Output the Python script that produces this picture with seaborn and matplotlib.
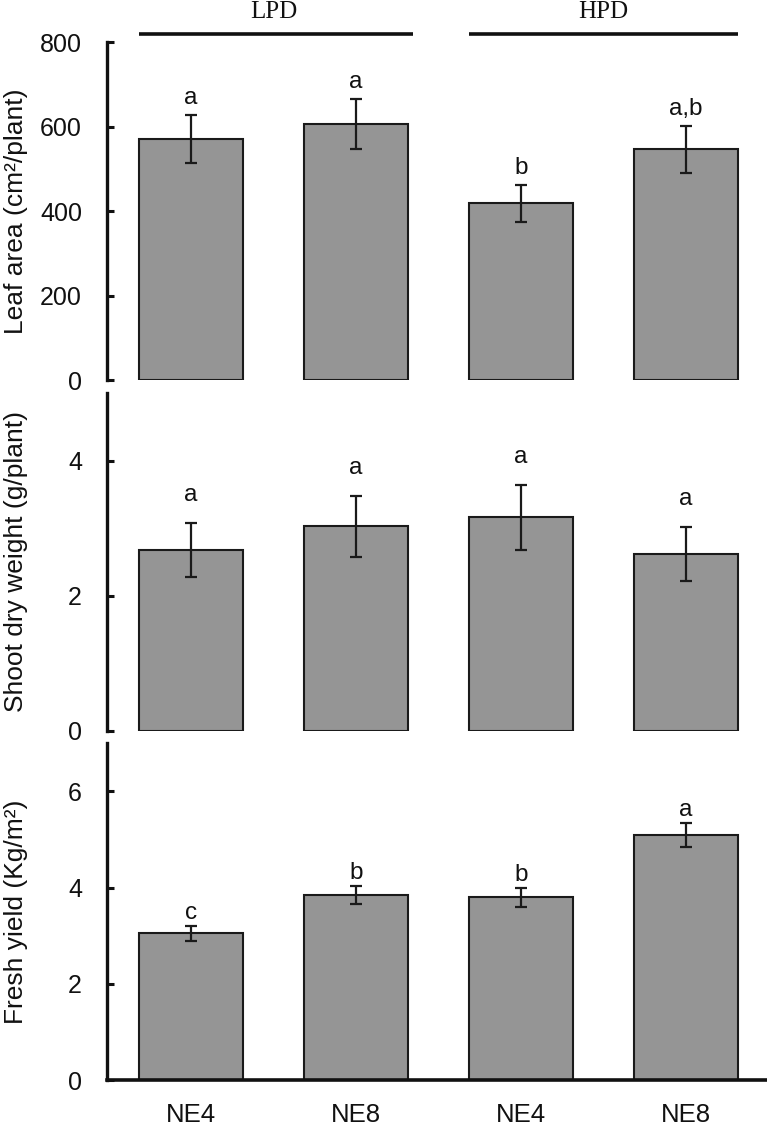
import matplotlib
matplotlib.use("Agg")
import matplotlib.pyplot as plt
import seaborn as sns
import pandas as pd
import numpy as np

# ---- data ----
conditions = ["LPD NE4", "LPD NE8", "HPD NE4", "HPD NE8"]
tick_labels = ["NE4", "NE8", "NE4", "NE8"]
groups = ["LPD", "HPD"]

leaf_area = [570, 606, 418, 546]
leaf_area_err = [57, 60, 43, 55]
leaf_area_letters = ["a", "a", "b", "a,b"]

shoot_dw = [2.68, 3.03, 3.16, 2.62]
shoot_dw_err = [0.40, 0.45, 0.48, 0.40]
shoot_dw_letters = ["a", "a", "a", "a"]

fresh_yield = [3.05, 3.85, 3.80, 5.10]
fresh_yield_err = [0.16, 0.19, 0.20, 0.25]
fresh_yield_letters = ["c", "b", "b", "a"]

# ---- style ----
sns.set_theme(style="white")
plt.rcParams["font.family"] = ["Liberation Sans", "DejaVu Sans"]

BAR_COLOR = "#959595"
EDGE = "#1a1a1a"
W = 0.63
XLIM = (-0.51, 3.49)

fig = plt.figure(figsize=(7.67, 11.25), dpi=100)

panels = [
    dict(vals=leaf_area, err=leaf_area_err, letters=leaf_area_letters,
         ylabel="Leaf area (cm²/plant)", ylim=(0, 800), ticks=[0, 200, 400, 600, 800],
         rect=[0.1395, 0.6622, 0.8605, 0.3004], off=8),
    dict(vals=shoot_dw, err=shoot_dw_err, letters=shoot_dw_letters,
         ylabel="Shoot dry weight (g/plant)", ylim=(0, 5), ticks=[0, 2, 4],
         rect=[0.1395, 0.3505, 0.8605, 0.3000], off=16),
    dict(vals=fresh_yield, err=fresh_yield_err, letters=fresh_yield_letters,
         ylabel="Fresh yield (Kg/m²)", ylim=(0, 7), ticks=[0, 2, 4, 6],
         rect=[0.1395, 0.0397, 0.8605, 0.2998], off=5),
]

axes = []
for k, p in enumerate(panels):
    ax = fig.add_axes(p["rect"])
    df = pd.DataFrame({"cond": conditions, "val": p["vals"]})
    sns.barplot(data=df, x="cond", y="val", order=conditions, color=BAR_COLOR,
                saturation=1, width=W, edgecolor=EDGE, linewidth=1.5,
                errorbar=None, ax=ax)
    xs = np.arange(len(conditions))
    ax.errorbar(xs, p["vals"], yerr=p["err"], fmt="none", ecolor=EDGE,
                elinewidth=1.6, capsize=4, capthick=1.6, zorder=5)
    for i, (v, e, lab) in enumerate(zip(p["vals"], p["err"], p["letters"])):
        ax.annotate(lab, xy=(i, v + e), xytext=(0, p["off"]), textcoords="offset points",
                    ha="center", va="baseline", fontsize=17.5, color="#111111")
    ax.set_xlim(*XLIM)
    ax.set_ylim(*p["ylim"])
    ax.set_yticks(p["ticks"])
    ax.set_yticklabels([str(t) for t in p["ticks"]], fontsize=18)
    ax.set_ylabel(p["ylabel"], fontsize=19, color="#111111")
    ax.yaxis.set_label_coords(-0.12, 0.5)
    ax.set_xlabel("")
    ax.tick_params(axis="y", direction="in", length=5, width=2.2, pad=18,
                   colors="#111111", left=True)
    for s in ["top", "right"]:
        ax.spines[s].set_visible(False)
    ax.spines["left"].set_linewidth(2.4)
    ax.spines["left"].set_color("#111111")
    if k < 2:
        ax.spines["bottom"].set_visible(False)
        ax.set_xticks([])
    else:
        ax.spines["bottom"].set_linewidth(2.6)
        ax.spines["bottom"].set_color("#111111")
        ax.set_xticks(xs)
        ax.set_xticklabels(tick_labels, fontsize=18.5, color="#111111")
        ax.tick_params(axis="x", length=0, pad=16)
    ax.grid(False)
    ax.set_facecolor("white")
    axes.append(ax)

# group brackets on top panel
top = axes[0]
tr = top.get_xaxis_transform()
for g, (a, b) in zip(groups, [(0, 1), (2, 3)]):
    x0, x1 = a - W / 2, b + W / 2
    top.plot([x0, x1 + (0.03 if g == "LPD" else 0)], [1.024, 1.024], transform=tr,
             color="#111111", lw=2.6, clip_on=False, solid_capstyle="butt")
    top.text((x0 + x1) / 2, 1.089, g, transform=tr, ha="center", va="center",
             fontsize=18, family=["Liberation Serif", "DejaVu Serif"], color="#111111")

fig.savefig("out.png", dpi=100, facecolor="white")
